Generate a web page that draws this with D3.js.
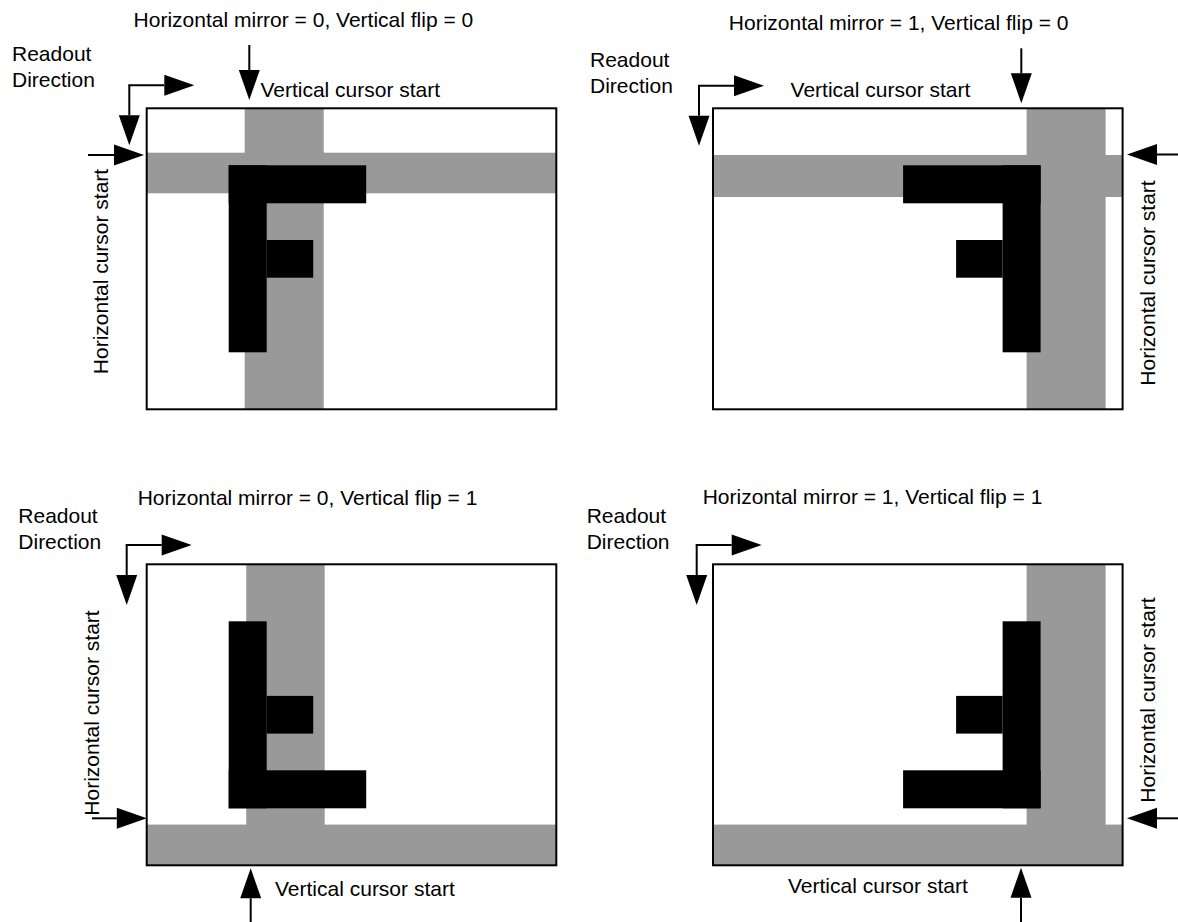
<!DOCTYPE html>
<html>
<head>
<meta charset="utf-8">
<script src="https://cdn.jsdelivr.net/npm/d3@7"></script>
<style>
body { margin: 0; background: #fff; }
text { font-family: "Liberation Sans", Arial, Helvetica, sans-serif; font-size: 21px; fill: #000; }
</style>
</head>
<body>
<svg id="chart"></svg>
<script>
// panel flags
var mirrorFlags = [0, 1, 0, 1];
var flipFlags = [0, 0, 1, 1];

// sensor size (px in the picture) and the "F" pattern, sensor coords [x0, y0, x1, y1]
var sensorSize = [409.6, 301];
var fRects = [[82, 57, 120, 244], [82, 57, 219.5, 95], [120, 131.7, 166.5, 169.4]];

// cursor bands in sensor coords, one per panel
var vCursor = [[98, 177], [17, 96], [99.5, 178], [17, 96]];
var hCursor = [[44.4, 85], [46.7, 88.7], [0, 40.7], [0, 40.7]];

// text labels
var readoutLines = ["Readout", "Direction"];
var vLabel = "Vertical cursor start";
var hLabel = "Horizontal cursor start";

var screen = {width: 1178, height: 922};

// layout per panel
var frameX = [146.7, 713, 146.7, 713];
var frameY = [108.3, 108.3, 564.3, 564.3];
var titlePos = [[133.6, 27], [728.8, 30], [137.7, 505], [702.7, 503.5]];
var readoutPos = [[12, 60.7], [590, 66.7], [18.3, 522.7], [586.7, 522.7]];
var cornerPos = [[129.3, 85.3], [699, 85.7], [126.7, 545], [696.7, 545]];
var vArrow = [[249.3, 45, 100], [1021.3, 48.3, 103.3], [250.7, 922, 868.3], [1021, 922, 867.7]];
var vLabelPos = [[260.4, 96.7], [790.6, 97], [275, 895.7], [788, 892.7]];
var hArrow = [[155, 88, 144], [154.5, 1178, 1127], [818.3, 92, 146.8], [818.3, 1178, 1127]];
var hLabelPos = [[107.5, 271.5], [1155, 283], [99, 713], [1155, 700]];

var svg = d3.select("#chart")
    .attr("width", screen.width)
    .attr("height", screen.height);

var head = 30, half = 10.5;

// line + triangular head, direction from (x1,y1) to tip (x2,y2)
var drawArrow = function(g, x1, y1, x2, y2)
{
    var dx = x2 - x1, dy = y2 - y1;
    var len = Math.sqrt(dx * dx + dy * dy);
    var ux = dx / len, uy = dy / len;
    var bx = x2 - ux * head, by = y2 - uy * head;
    g.append("line")
        .attr("x1", x1).attr("y1", y1)
        .attr("x2", bx).attr("y2", by)
        .attr("stroke", "#000").attr("stroke-width", 2);
    g.append("path")
        .attr("d", "M" + x2 + "," + y2 +
            "L" + (bx - uy * half) + "," + (by + ux * half) +
            "L" + (bx + uy * half) + "," + (by - ux * half) + "Z")
        .attr("fill", "#000");
}

var drawPanel = function(i)
{
    var g = svg.append("g").attr("id", "panel" + i);
    var W = sensorSize[0], H = sensorSize[1];
    var x0 = frameX[i], y0 = frameY[i];

    var xScale = d3.scaleLinear().domain([0, W])
        .range(mirrorFlags[i] ? [x0 + W, x0] : [x0, x0 + W]);
    var yScale = d3.scaleLinear().domain([0, H])
        .range(flipFlags[i] ? [y0 + H, y0] : [y0, y0 + H]);

    var box = function(sel, r)
    {
        var a = xScale(r[0]), b = xScale(r[2]);
        var c = yScale(r[1]), d = yScale(r[3]);
        sel.attr("x", Math.min(a, b)).attr("y", Math.min(c, d))
            .attr("width", Math.abs(b - a)).attr("height", Math.abs(d - c));
    }

    // gray cursor bands
    g.append("rect").call(box, [vCursor[i][0], 0, vCursor[i][1], H]).attr("fill", "#999999");
    g.append("rect").call(box, [0, hCursor[i][0], W, hCursor[i][1]]).attr("fill", "#999999");

    // F pattern
    g.selectAll(".f")
        .data(fRects)
        .enter()
        .append("rect")
        .attr("class", "f")
        .each(function(r) { d3.select(this).call(box, r); })
        .attr("fill", "#000");

    // frame
    g.append("rect")
        .attr("x", x0).attr("y", y0)
        .attr("width", W).attr("height", H)
        .attr("fill", "none").attr("stroke", "#000").attr("stroke-width", 2);

    // title
    g.append("text")
        .attr("x", titlePos[i][0]).attr("y", titlePos[i][1])
        .text("Horizontal mirror = " + mirrorFlags[i] + ", Vertical flip = " + flipFlags[i]);

    // readout direction
    g.selectAll(".ro")
        .data(readoutLines)
        .enter()
        .append("text")
        .attr("class", "ro")
        .attr("x", readoutPos[i][0])
        .attr("y", function(d, k) { return readoutPos[i][1] + k * 26; })
        .text(function(d) { return d; });

    var cx = cornerPos[i][0], cy = cornerPos[i][1];
    drawArrow(g, cx, cy, cx, cy + 60);
    drawArrow(g, cx - 1, cy, cx + 65, cy);

    // vertical cursor start
    drawArrow(g, vArrow[i][0], vArrow[i][1], vArrow[i][0], vArrow[i][2]);
    g.append("text")
        .attr("x", vLabelPos[i][0]).attr("y", vLabelPos[i][1])
        .text(vLabel);

    // horizontal cursor start
    drawArrow(g, hArrow[i][1], hArrow[i][0], hArrow[i][2], hArrow[i][0]);
    g.append("text")
        .attr("transform", "translate(" + hLabelPos[i][0] + "," + hLabelPos[i][1] + ") rotate(-90)")
        .attr("text-anchor", "middle")
        .text(hLabel);
}

for (var i = 0; i < 4; i++) drawPanel(i);
</script>
</body>
</html>
